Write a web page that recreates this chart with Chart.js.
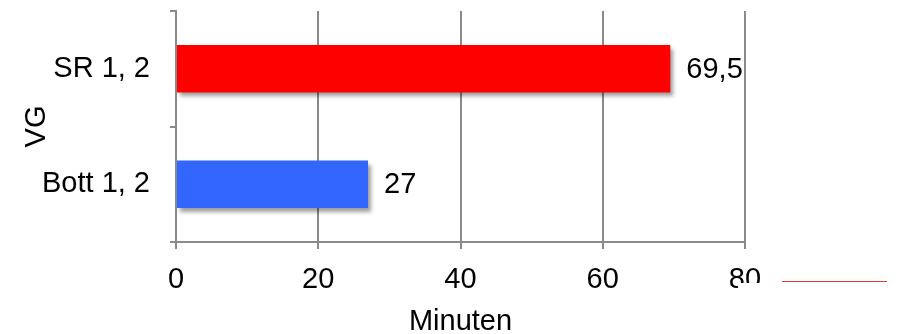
<!DOCTYPE html>
<html>
<head>
<meta charset="utf-8">
<script src="https://cdn.jsdelivr.net/npm/chart.js@4.4.1/dist/chart.umd.min.js"></script>
<style>
  html, body { margin: 0; padding: 0; background: #fff; }
  #wrap { width: 899px; height: 334px; position: relative; }
</style>
</head>
<body>
<div id="wrap"><canvas id="c" width="899" height="334"></canvas></div>
<script>
// Categories (top to bottom) and their durations in minutes
const categories = ['SR 1, 2', 'Bott 1, 2'];
const minutes = [69.5, 27];
const barColors = ['#FF0000', '#3366FF'];
const xTicks = [0, 20, 40, 60, 80];

const FONT = { family: '"Liberation Sans", Arial, sans-serif', size: 29, lineHeight: 1 };
const AXIS_GRAY = '#8a8a8a';

// Soft drop shadow behind the bars
const barShadow = {
  id: 'barShadow',
  beforeDatasetsDraw(chart) {
    const ctx = chart.ctx;
    ctx.save();
    ctx.shadowColor = 'rgba(0,0,0,0.38)';
    ctx.shadowOffsetX = 3;
    ctx.shadowOffsetY = 4;
    ctx.shadowBlur = 4;
  },
  afterDatasetsDraw(chart) {
    chart.ctx.restore();
  }
};

// Value labels to the right of each bar, German decimal comma
const valueLabels = {
  id: 'valueLabels',
  afterDatasetsDraw(chart) {
    const ctx = chart.ctx;
    const meta = chart.getDatasetMeta(0);
    ctx.save();
    ctx.fillStyle = '#000';
    ctx.font = `${FONT.size}px ${FONT.family}`;
    ctx.textAlign = 'left';
    ctx.textBaseline = 'middle';
    meta.data.forEach((bar, i) => {
      const txt = String(minutes[i]).replace('.', ',');
      ctx.fillText(txt, bar.x + 16, bar.y + 1);
    });
    ctx.restore();
  }
};

// Small legend-like stroke at the lower right, partly masking the last tick label
const cornerStroke = {
  id: 'cornerStroke',
  afterDraw(chart) {
    const ctx = chart.ctx;
    const xs = chart.scales.x;
    const x80 = xs.getPixelForValue(80);
    const y = chart.chartArea.bottom + 39;
    ctx.save();
    ctx.fillStyle = '#fff';
    ctx.fillRect(x80 - 7, y + 2, 40, 16);
    ctx.strokeStyle = '#d83a3a';
    ctx.lineWidth = 1;
    ctx.beginPath();
    ctx.moveTo(x80 + 37, y + 0.5);
    ctx.lineTo(x80 + 142, y + 0.5);
    ctx.stroke();
    ctx.restore();
  }
};

new Chart(document.getElementById('c'), {
  type: 'bar',
  data: {
    labels: categories,
    datasets: [{
      data: minutes,
      backgroundColor: barColors,
      borderWidth: 0,
      barPercentage: 0.41,
      categoryPercentage: 1
    }]
  },
  options: {
    indexAxis: 'y',
    responsive: false,
    animation: false,
    devicePixelRatio: 1,
    layout: { padding: { top: 11, right: 154, left: 0, bottom: 0 } },
    plugins: {
      legend: { display: false },
      tooltip: { enabled: false }
    },
    scales: {
      x: {
        min: 0,
        max: 80,
        afterBuildTicks(scale) { scale.ticks = xTicks.map(v => ({ value: v })); },
        afterFit(scale) { scale.height = 92; },
        ticks: { color: '#000', font: FONT, padding: 16, maxRotation: 0 },
        grid: { color: AXIS_GRAY, lineWidth: 2, tickLength: 7, drawTicks: true },
        border: { color: AXIS_GRAY, width: 2 },
        title: { display: true, text: 'Minuten', color: '#000', font: FONT, padding: { top: 0, bottom: -2 } }
      },
      y: {
        afterFit(scale) {
          scale.width = 176;
          scale.paddingTop = 0;
          scale.paddingBottom = 0;
        },
        ticks: { color: '#000', font: FONT, padding: 20 },
        grid: { offset: true, drawOnChartArea: false, drawTicks: true, tickLength: 6, color: AXIS_GRAY, lineWidth: 2 },
        border: { color: AXIS_GRAY, width: 2 },
        title: { display: true, text: 'VG', color: '#000', font: FONT, padding: { top: 22, bottom: 0 } }
      }
    }
  },
  plugins: [barShadow, valueLabels, cornerStroke]
});
</script>
</body>
</html>
